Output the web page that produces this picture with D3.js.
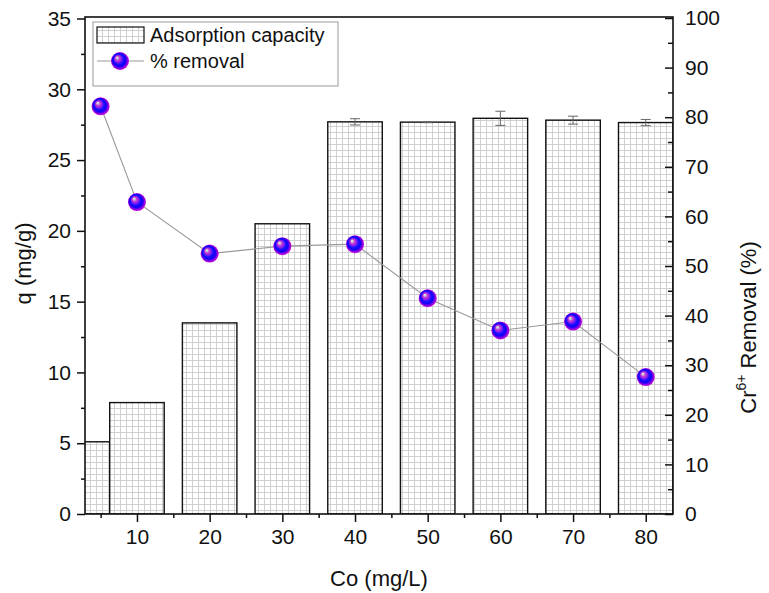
<!DOCTYPE html>
<html>
<head>
<meta charset="utf-8">
<script src="https://cdn.jsdelivr.net/npm/d3@7/dist/d3.min.js"></script>
<style>
  html, body { margin: 0; padding: 0; background: #fff; }
  svg text { font-family: Arial, "Liberation Sans", sans-serif; fill: #111; }
</style>
</head>
<body>
<svg id="chart" width="769" height="593"></svg>
<script>
// Initial Cr(VI) concentration (mg/L)
const concentrations = [5, 10, 20, 30, 40, 50, 60, 70, 80];
// Adsorption capacity q (mg/g)
const capacity = [5.1, 7.87, 13.5, 20.5, 27.7, 27.68, 27.95, 27.82, 27.65];
// Standard deviation of capacity
const capacityErr = [0, 0, 0, 0, 0.22, 0.04, 0.5, 0.28, 0.22];
// Cr6+ removal (%)
const removal = [82.2, 62.9, 52.5, 54.0, 54.4, 43.5, 37.0, 38.8, 27.6];
// Axis ticks
const leftTicks = [0, 5, 10, 15, 20, 25, 30, 35];
const rightTicks = [0, 10, 20, 30, 40, 50, 60, 70, 80, 90, 100];
const bottomTicks = [10, 20, 30, 40, 50, 60, 70, 80];

const svg = d3.select("#chart");
const L = 85, R = 673, T = 17, B = 514;

const x = d3.scaleLinear().domain([2.85, 83.75]).range([L, R]);
const yL = d3.scaleLinear().domain([0, 35]).range([B, T + 1.5]);
const yR = d3.scaleLinear().domain([0, 100]).range([B, T + 1]);
const barW = x(7.5) - x(0);

const defs = svg.append("defs");

// fine grid fill for the bars
const pat = defs.append("pattern").attr("id", "grid")
  .attr("patternUnits", "userSpaceOnUse").attr("width", 6).attr("height", 6);
pat.append("rect").attr("width", 6).attr("height", 6).attr("fill", "#fff");
pat.append("path").attr("d", "M0,0.5H6M0.5,0V6")
  .attr("stroke", "#cbcbcb").attr("stroke-width", 0.9).attr("fill", "none");

// shaded sphere for the removal markers
const grad = defs.append("radialGradient").attr("id", "ball")
  .attr("cx", "50%").attr("cy", "50%").attr("r", "52%")
  .attr("fx", "32%").attr("fy", "30%");
[["0%", "#f0f0f0"], ["13%", "#c0bcc8"], ["22%", "#d040d8"], ["38%", "#9020e8"],
 ["52%", "#2010ff"], ["70%", "#1000f8"], ["84%", "#8000e0"], ["100%", "#e010e0"]]
  .forEach(([o, c]) => grad.append("stop").attr("offset", o).attr("stop-color", c));

defs.append("clipPath").attr("id", "plotClip")
  .append("rect").attr("x", L).attr("y", T).attr("width", R - L).attr("height", B - T);

const data = concentrations.map((c, i) => ({
  c, q: capacity[i], e: capacityErr[i], r: removal[i]
}));

// bars
const plot = svg.append("g").attr("clip-path", "url(#plotClip)");
plot.selectAll("rect.bar").data(data).join("rect")
  .attr("class", "bar")
  .attr("x", d => x(d.c) - barW / 2)
  .attr("y", d => yL(d.q))
  .attr("width", barW)
  .attr("height", d => B - yL(d.q))
  .attr("fill", "url(#grid)")
  .attr("stroke", "#111").attr("stroke-width", 1.4);

// error bars
const eb = svg.append("g").attr("stroke", "#666").attr("stroke-width", 1).attr("fill", "none");
data.filter(d => d.e > 0).forEach(d => {
  const cx = x(d.c), y1 = yL(d.q + d.e), y2 = yL(d.q - d.e);
  eb.append("path").attr("d", `M${cx},${y1}V${y2}M${cx - 5},${y1}H${cx + 5}M${cx - 5},${y2}H${cx + 5}`);
});

// frame
svg.append("rect").attr("x", L).attr("y", T).attr("width", R - L).attr("height", B - T)
  .attr("fill", "none").attr("stroke", "#111").attr("stroke-width", 1.6);

// axes
function styleAxis(g) {
  g.select(".domain").remove();
  g.selectAll("line").attr("stroke", "#111").attr("stroke-width", 1.5);
  g.selectAll("text").attr("font-size", 21).attr("fill", "#111");
}
const minorsL = d3.range(2.5, 35, 5);
const minorsR = d3.range(5, 100, 10);
const minorsB = d3.range(5, 85, 10);

svg.append("g").attr("transform", `translate(${L},0)`)
  .call(d3.axisLeft(yL).tickValues(leftTicks).tickSize(8).tickPadding(6)).call(styleAxis);
svg.append("g").attr("transform", `translate(${L},0)`)
  .call(d3.axisLeft(yL).tickValues(minorsL).tickSize(4).tickFormat("")).call(styleAxis);

svg.append("g").attr("transform", `translate(${R},0)`)
  .call(d3.axisRight(yR).tickValues(rightTicks).tickSizeInner(-8).tickSizeOuter(0).tickPadding(12)).call(styleAxis);
svg.append("g").attr("transform", `translate(${R},0)`)
  .call(d3.axisRight(yR).tickValues(minorsR).tickSizeInner(-5).tickSizeOuter(0).tickFormat("")).call(styleAxis);

svg.append("g").attr("transform", `translate(0,${B})`)
  .call(d3.axisBottom(x).tickValues(bottomTicks).tickSize(8).tickPadding(7)).call(styleAxis);
svg.append("g").attr("transform", `translate(0,${B})`)
  .call(d3.axisBottom(x).tickValues(minorsB).tickSize(4).tickFormat("")).call(styleAxis);

// removal line and markers
svg.append("path").datum(data)
  .attr("d", d3.line().x(d => x(d.c)).y(d => yR(d.r)))
  .attr("fill", "none").attr("stroke", "#999").attr("stroke-width", 1.1);
svg.selectAll("circle.pt").data(data).join("circle")
  .attr("class", "pt")
  .attr("cx", d => x(d.c)).attr("cy", d => yR(d.r)).attr("r", 9)
  .attr("fill", "url(#ball)");

// axis titles
svg.append("text").attr("x", (L + R) / 2).attr("y", 586).attr("text-anchor", "middle")
  .attr("font-size", 22).text("Co (mg/L)");
svg.append("text").attr("transform", `translate(31,${(T + B) / 2 - 2}) rotate(-90)`)
  .attr("text-anchor", "middle").attr("font-size", 22).text("q (mg/g)");
const rt = svg.append("text").attr("transform", `translate(756,${(T + B) / 2 + 62}) rotate(-90)`)
  .attr("text-anchor", "middle").attr("font-size", 22);
rt.append("tspan").text("Cr");
rt.append("tspan").attr("dy", -10).attr("font-size", 14).text("6+");
rt.append("tspan").attr("dy", 10).text(" Removal (%)");

// legend
const lg = svg.append("g");
lg.append("rect").attr("x", 93).attr("y", 22).attr("width", 245).attr("height", 64)
  .attr("fill", "#fff").attr("stroke", "#999").attr("stroke-width", 1);
lg.append("rect").attr("x", 97).attr("y", 27).attr("width", 47).attr("height", 16)
  .attr("fill", "url(#grid)").attr("stroke", "#111").attr("stroke-width", 1.2);
lg.append("text").attr("x", 150).attr("y", 42).attr("font-size", 20).text("Adsorption capacity");
lg.append("line").attr("x1", 97).attr("x2", 144).attr("y1", 61).attr("y2", 61)
  .attr("stroke", "#999").attr("stroke-width", 1.1);
lg.append("circle").attr("cx", 120).attr("cy", 61).attr("r", 9).attr("fill", "url(#ball)");
lg.append("text").attr("x", 150).attr("y", 68).attr("font-size", 20).text("% removal");
</script>
</body>
</html>
